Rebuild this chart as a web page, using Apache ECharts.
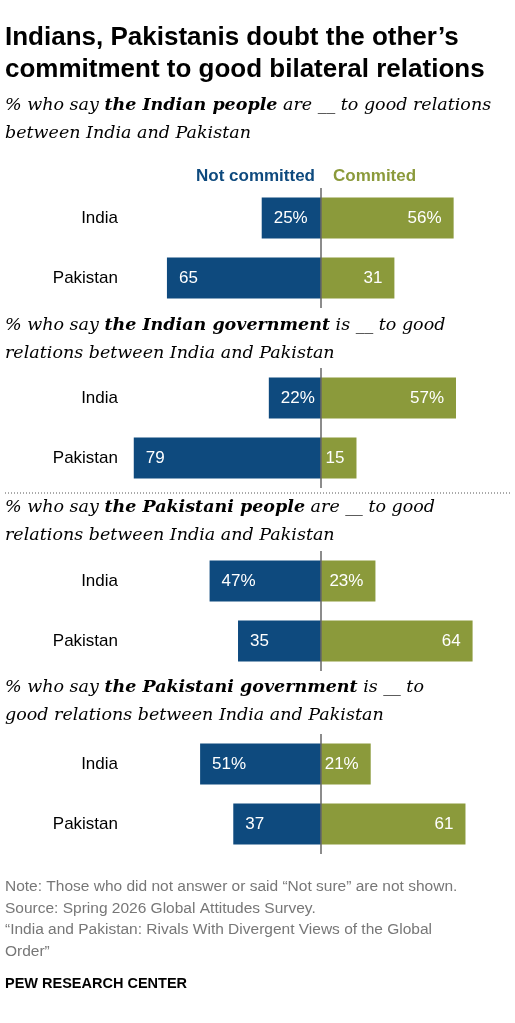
<!DOCTYPE html><html><head><meta charset="utf-8"><script src="https://cdn.jsdelivr.net/npm/echarts@6/dist/echarts.min.js"></script>
<style>body{margin:0}#c{width:515px;height:1023px}</style></head><body><div id="c"></div><script>
const categories=['India','Pakistan'];
const notCommitted=[[25,65],[22,79],[47,35],[51,37]];
const committed=[[56,31],[57,15],[23,64],[21,61]];
const gridTops=[190,370,553,736];
const subtitles=[
['% who say ','the Indian people',' are __ to good relations','between India and Pakistan'],
['% who say ','the Indian government',' is __ to good','relations between India and Pakistan'],
['% who say ','the Pakistani people',' are __ to good','relations between India and Pakistan'],
['% who say ','the Pakistani government',' is __ to','good relations between India and Pakistan']];
const subY=[96,316,498,678];
const BLUE='#0e4a7e',GREEN='#8b9a3b';
const grids=[],xAxes=[],yAxes=[],series=[],graphic=[];
gridTops.forEach((t,i)=>{
 grids.push({left:125,right:0,top:t-2,height:120});
 xAxes.push({gridIndex:i,type:'value',min:-82.7,max:81.9,show:false});
 yAxes.push({gridIndex:i,type:'category',data:categories,inverse:true,axisLine:{show:false},axisTick:{show:false},axisLabel:{fontSize:17,color:'#000',fontFamily:'Liberation Sans',margin:7}});
 const lab=(pos)=>({show:true,position:pos,distance:12,color:'#fff',fontSize:17,fontFamily:'Liberation Sans',formatter:p=>Math.abs(p.value)+(p.dataIndex===0?'%':'')});
 series.push({type:'bar',xAxisIndex:i,yAxisIndex:i,stack:'s'+i,barWidth:41,data:notCommitted[i].map(v=>-v),itemStyle:{color:BLUE},label:lab('insideLeft'),
  markLine:{silent:true,symbol:'none',label:{show:false},z:10,lineStyle:{color:'#666',type:'solid',width:1.5},data:[{xAxis:0}]}});
 series.push({type:'bar',xAxisIndex:i,yAxisIndex:i,stack:'s'+i,barWidth:41,data:committed[i],itemStyle:{color:GREEN},label:lab('insideRight')});
 const s=subtitles[i];
 graphic.push({type:'text',left:5,top:subY[i],style:{text:'{n|'+s[0]+'}{b|'+s[1]+'}{n|'+s[2]+'}\n{n|'+s[3]+'}',rich:{n:{fontFamily:'DejaVu Serif',fontStyle:'italic',fontSize:17.5,color:'#666',lineHeight:28},b:{fontFamily:'DejaVu Serif',fontStyle:'italic',fontWeight:'bold',fontSize:17.5,color:'#666',lineHeight:28}}}});
});
graphic.push({type:'text',left:5,top:22,style:{text:'Indians, Pakistanis doubt the other’s\ncommitment to good bilateral relations',font:'bold 26px Liberation Sans',fill:'#000',lineHeight:32}});
graphic.push({type:'text',right:200,top:168,style:{text:'Not committed',font:'bold 17px Liberation Sans',fill:BLUE}});
graphic.push({type:'text',left:333,top:168,style:{text:'Commited',font:'bold 17px Liberation Sans',fill:GREEN}});
graphic.push({type:'line',shape:{x1:5,y1:493,x2:510,y2:493},style:{stroke:'#555',lineWidth:1,lineDash:[1,2]}});
graphic.push({type:'text',left:5,top:876,style:{text:'Note: Those who did not answer or said “Not sure” are not shown.\nSource: Spring 2026 Global Attitudes Survey.\n“India and Pakistan: Rivals With Divergent Views of the Global\nOrder”',font:'15.5px Liberation Sans',fill:'#777',lineHeight:21.5}});
graphic.push({type:'text',left:5,top:976,style:{text:'PEW RESEARCH CENTER',font:'bold 14.5px Liberation Sans',fill:'#000'}});
const ch=echarts.init(document.getElementById('c'));
ch.setOption({animation:false,grid:grids,xAxis:xAxes,yAxis:yAxes,series,graphic});
</script></body></html>
